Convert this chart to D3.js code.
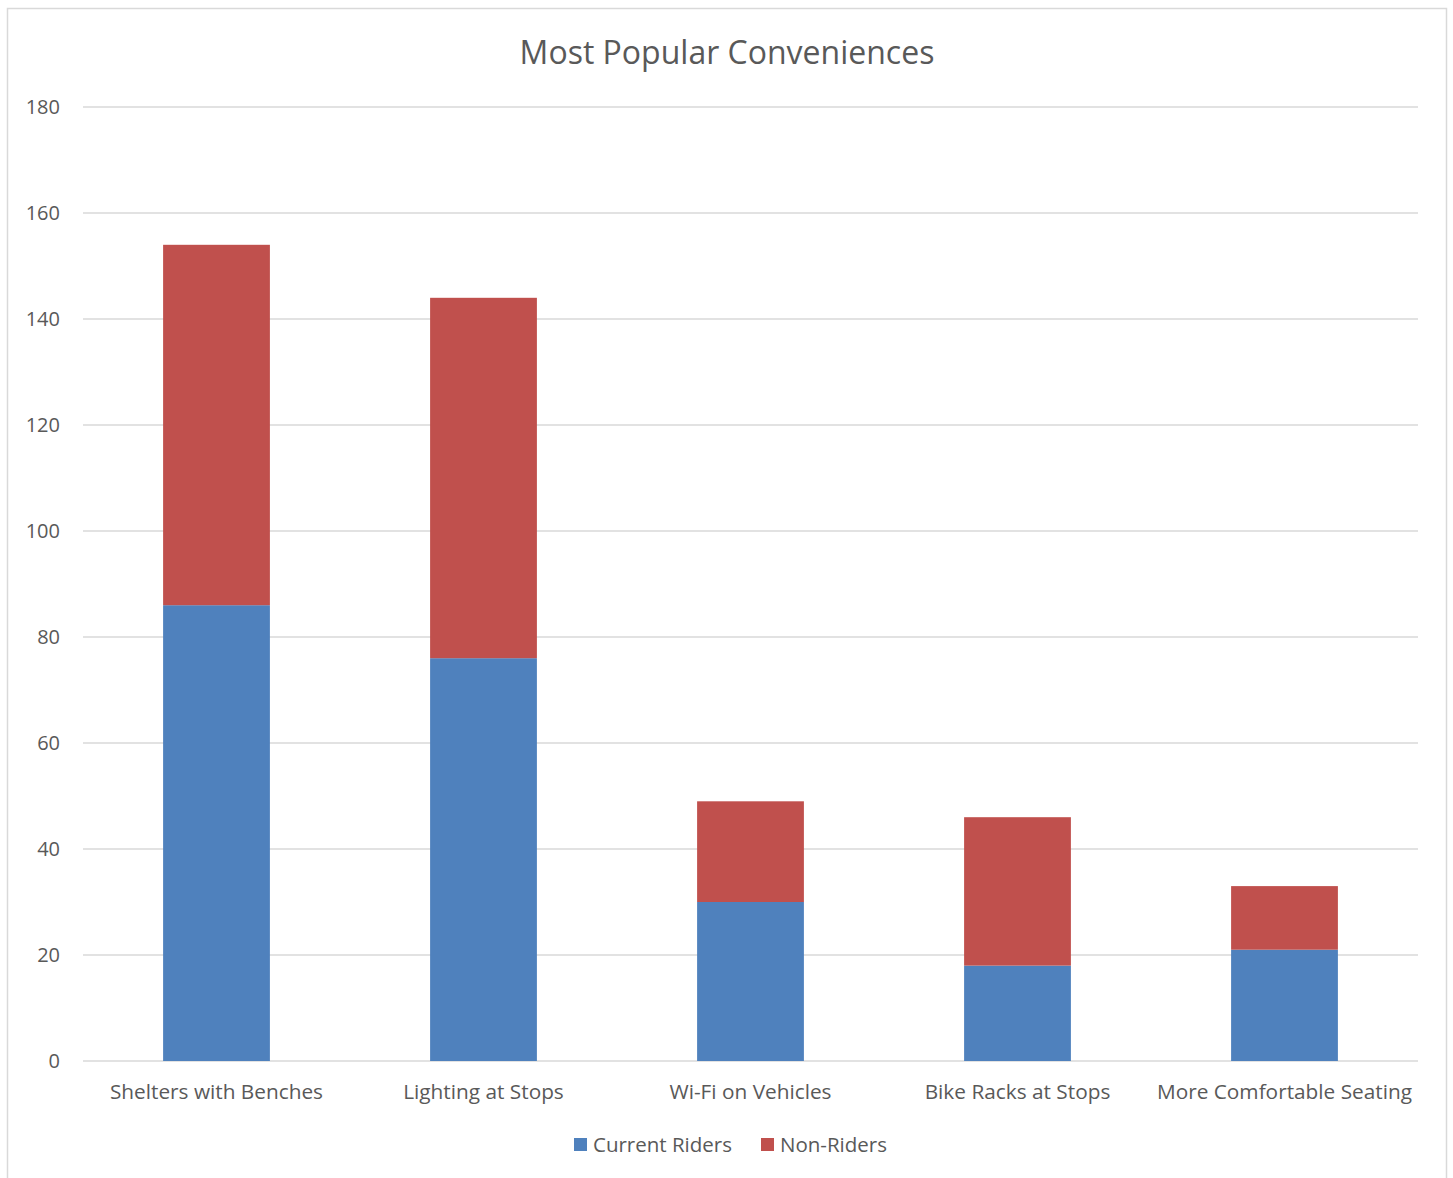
<!DOCTYPE html>
<html>
<head>
<meta charset="utf-8">
<script src="https://d3js.org/d3.v7.min.js"></script>
<style>
  body { margin: 0; background: #fff; }
  text { font-family: "Open Sans", "Noto Sans", sans-serif; fill: #595959; }
</style>
</head>
<body>
<svg width="1453" height="1178"></svg>
<script>
// dati del grafico
var categorie = ["Shelters with Benches", "Lighting at Stops", "Wi-Fi on Vehicles", "Bike Racks at Stops", "More Comfortable Seating"];
var serie = ["Current Riders", "Non-Riders"];
var correnti = [86, 76, 30, 18, 21];
var nonCorrenti = [68, 68, 19, 28, 12];
var tickY = [0, 20, 40, 60, 80, 100, 120, 140, 160, 180];
var colori = ["#4F81BD", "#C0504D"];

var svg = d3.select("svg");

// bordo esterno del grafico
svg.append("rect")
  .attr("x", 7.5).attr("y", 8.5)
  .attr("width", 1439).attr("height", 1200)
  .attr("fill", "none").attr("stroke", "#D9D9D9").attr("stroke-width", 1.5);

var margSx = 83, margDx = 1418, margSu = 107, margGiu = 1061;

var x = d3.scaleBand().domain(categorie).range([margSx, margDx]).paddingInner(0.6).paddingOuter(0.3);
var y = d3.scaleLinear().domain([0, 180]).range([margGiu, margSu]);

// griglia
svg.selectAll(".griglia").data(tickY).enter().append("line")
  .attr("x1", margSx).attr("x2", margDx)
  .attr("y1", function(d) { return y(d); })
  .attr("y2", function(d) { return y(d); })
  .attr("stroke", "#D9D9D9").attr("stroke-width", 1.5);

// etichette asse y
svg.selectAll(".ety").data(tickY).enter().append("text")
  .attr("x", 60)
  .attr("y", function(d) { return y(d); })
  .attr("dy", "0.35em")
  .attr("text-anchor", "end")
  .attr("font-size", 20)
  .text(function(d) { return d; });

// stack
var tabella = categorie.map(function(c, i) {
  return { cat: c, "Current Riders": correnti[i], "Non-Riders": nonCorrenti[i] };
});
var stack = d3.stack().keys(serie)(tabella);

svg.selectAll(".serie").data(stack).enter().append("g")
  .attr("fill", function(d, i) { return colori[i]; })
  .selectAll("rect").data(function(d) { return d; }).enter().append("rect")
  .attr("x", function(d) { return x(d.data.cat); })
  .attr("width", x.bandwidth())
  .attr("y", function(d) { return y(d[1]); })
  .attr("height", function(d) { return y(d[0]) - y(d[1]); });

// etichette categorie
svg.selectAll(".etx").data(categorie).enter().append("text")
  .attr("x", function(d) { return x(d) + x.bandwidth() / 2; })
  .attr("y", 1099)
  .attr("text-anchor", "middle")
  .attr("font-size", 20.8)
  .text(function(d) { return d; });

// titolo
svg.append("text")
  .attr("x", 727).attr("y", 64)
  .attr("text-anchor", "middle")
  .attr("font-size", 32)
  .text("Most Popular Conveniences");

// legenda
var legX = [574, 761];
var leg = svg.selectAll(".leg").data(serie).enter().append("g")
  .attr("transform", function(d, i) { return "translate(" + legX[i] + ",1138)"; });
leg.append("rect")
  .attr("width", 13).attr("height", 13)
  .attr("fill", function(d, i) { return colori[i]; });
leg.append("text")
  .attr("x", 19).attr("y", 7).attr("dy", "0.35em")
  .attr("font-size", 20.5)
  .text(function(d) { return d; });
</script>
</body>
</html>
